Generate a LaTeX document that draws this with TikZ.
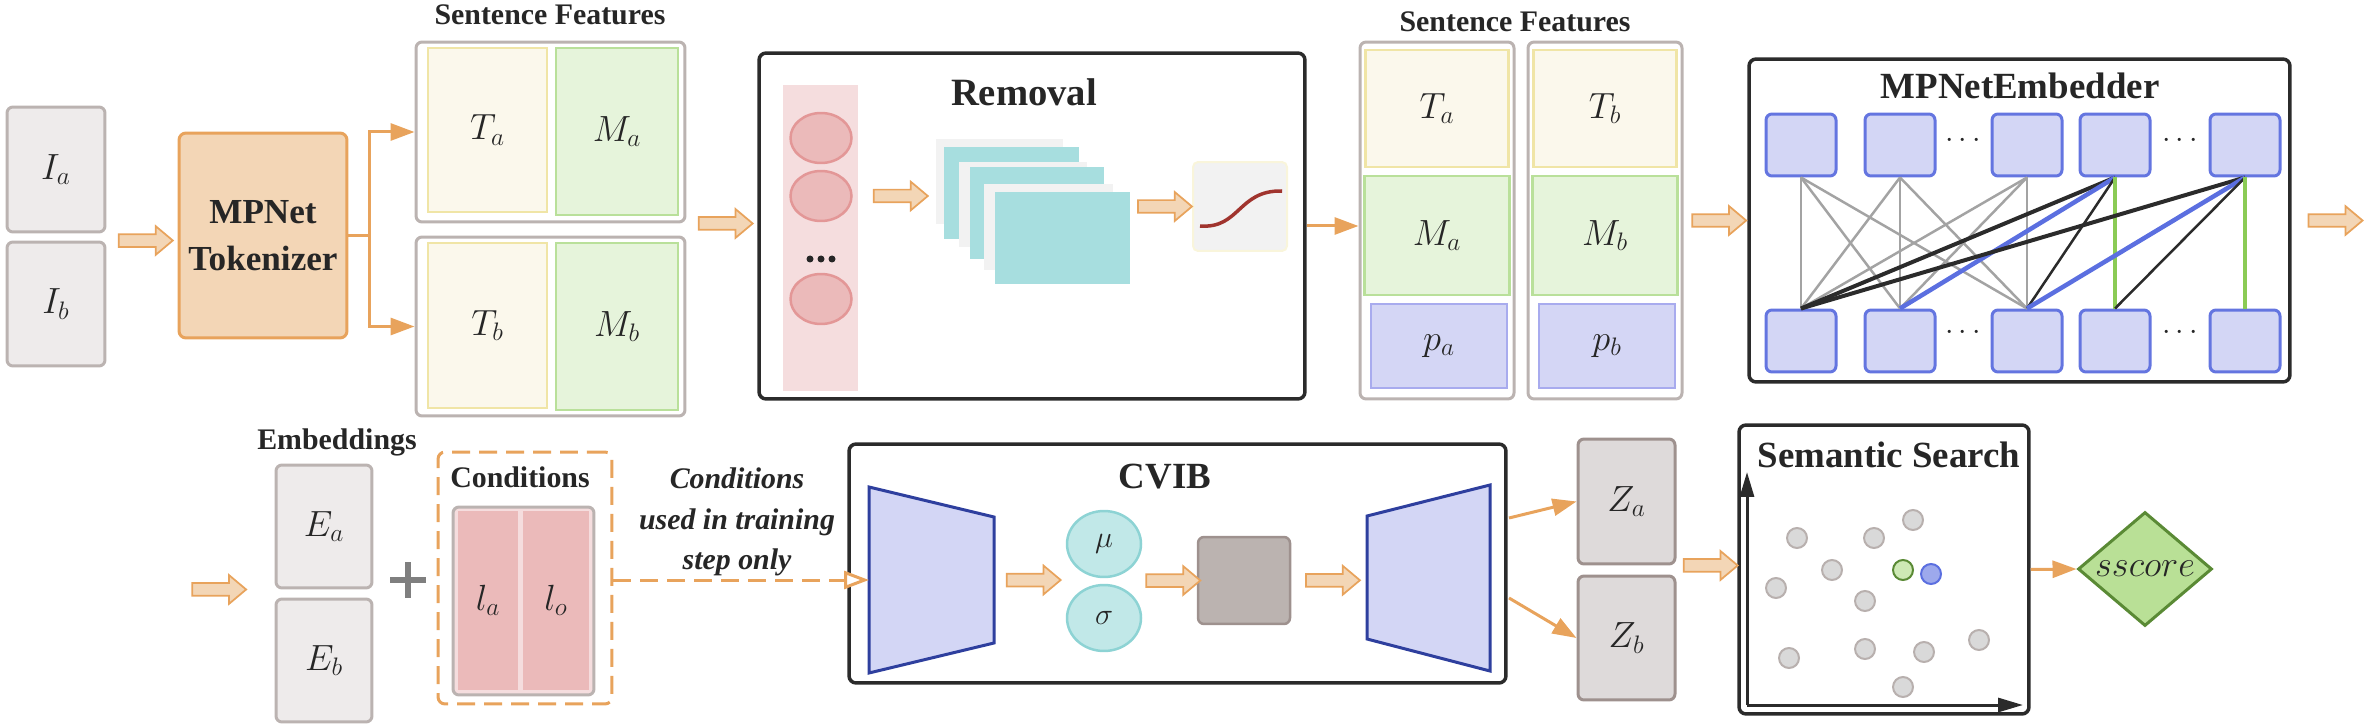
\documentclass[tikz,border=0pt]{standalone}
\usepackage{fontspec}
\setmainfont{Liberation Serif}
\usetikzlibrary{arrows.meta,positioning,shapes.geometric,shapes.arrows,calc}

\definecolor{orng}{HTML}{E8A35C}
\definecolor{orngfill}{HTML}{F3D6B6}
\definecolor{gbox}{HTML}{EEEBEB}
\definecolor{gline}{HTML}{BBB3B1}
\definecolor{zfill}{HTML}{DEDADA}
\definecolor{zline}{HTML}{9E918E}
\definecolor{latent}{HTML}{BBB3B0}
\definecolor{tfill}{HTML}{FBF8EC}
\definecolor{tline}{HTML}{F0E5A6}
\definecolor{mfill}{HTML}{E6F4DB}
\definecolor{mline}{HTML}{B9E09A}
\definecolor{pfill}{HTML}{D4D6F5}
\definecolor{pline}{HTML}{A8ABEE}
\definecolor{framec}{HTML}{2B2B2B}
\definecolor{nfill}{HTML}{D3D6F5}
\definecolor{nline}{HTML}{6475E0}
\definecolor{trline}{HTML}{2E3F9E}
\definecolor{cyfill}{HTML}{C1E8E8}
\definecolor{cyline}{HTML}{8DD3D4}
\definecolor{mapcy}{HTML}{A7DEDF}
\definecolor{mapgr}{HTML}{F2F2F2}
\definecolor{pinkcol}{HTML}{F5DDDE}
\definecolor{pinkfill}{HTML}{EBBABA}
\definecolor{pinkline}{HTML}{E39797}
\definecolor{sigred}{HTML}{A0342E}
\definecolor{dfill}{HTML}{B9E096}
\definecolor{dline}{HTML}{5A8A35}
\definecolor{txt}{HTML}{262626}
\definecolor{ptfill}{HTML}{D9D9D9}
\definecolor{ptline}{HTML}{B8B0AE}
\definecolor{plusgray}{HTML}{7F7F7F}
\definecolor{lgray}{HTML}{A3A3A3}
\definecolor{lblue}{HTML}{5B6FE0}
\definecolor{lgreen}{HTML}{8BCB55}

\begin{document}
\begin{tikzpicture}[x=0.02cm,y=-0.02cm,
  lab/.style={font=\fontsize{20}{24}\selectfont,text=txt},
  graybox/.style={draw=gline,fill=gbox,line width=0.06cm,rounded corners=0.12cm,lab},
  zbox/.style={draw=zline,fill=zfill,line width=0.06cm,rounded corners=0.12cm,lab},
  outer/.style={draw=gline,fill=white,line width=0.06cm,rounded corners=0.12cm},
  tcell/.style={draw=tline,fill=tfill,line width=0.05cm,lab},
  mcell/.style={draw=mline,fill=mfill,line width=0.05cm,lab},
  pcell/.style={draw=pline,fill=pfill,line width=0.05cm,lab},
  frame/.style={draw=framec,line width=0.07cm,rounded corners=0.14cm},
  title/.style={font=\bfseries\fontsize{17}{20}\selectfont,text=txt},
  bigtitle/.style={font=\bfseries\fontsize{21}{24}\selectfont,text=txt},
  fatarr/.style={single arrow,draw=orng,fill=orngfill,line width=0.035cm,inner sep=0.11cm,
    minimum height=1.08cm,minimum width=0.54cm,single arrow head extend=0.16cm,single arrow tip angle=80},
  thinarr/.style={draw=orng,line width=0.06cm,-{Triangle[length=0.48cm,width=0.34cm]}},
  cell/.style={draw=nline,fill=nfill,line width=0.06cm,rounded corners=0.12cm,minimum width=1.4cm,minimum height=1.24cm},
  glink/.style={draw=lgray,line width=0.05cm},
  klink/.style={draw=framec,line width=0.08cm},
  klinkthin/.style={draw=framec,line width=0.05cm},
  ulink/.style={draw=lblue,line width=0.09cm},
  vlink/.style={draw=lgreen,line width=0.08cm},
  dots/.style={font=\fontsize{16}{16}\selectfont,text=txt},
  pt/.style={circle,draw=ptline,fill=ptfill,line width=0.04cm,minimum size=0.4cm,inner sep=0},
  axis/.style={draw=framec,line width=0.06cm,-{Triangle[length=0.5cm,width=0.28cm]}}]
\useasboundingbox (0,0) rectangle (2370,726);

% inputs and tokenizer
\node[graybox,minimum width=1.96cm,minimum height=2.5cm] (ia) at (56,169.5) {$I_a$};
\node[graybox,minimum width=1.96cm,minimum height=2.48cm] (ib) at (56,304) {$I_b$};
\node[draw=orng,fill=orngfill,line width=0.06cm,rounded corners=0.14cm,minimum width=3.36cm,minimum height=4.1cm,
  align=center,font=\bfseries\fontsize{20}{27}\selectfont,text=txt] (tok) at (263,235.5) {MPNet\\Tokenizer};
\path (ib.north east) -- node[fatarr]{} (ib.north east -| tok.west);

% sentence features
\node[title] at (550,15) {Sentence Features};
\node[outer,minimum width=5.38cm,minimum height=3.6cm] (sfa) at (550.5,132) {};
\node[tcell,minimum width=2.38cm,minimum height=3.28cm] (ta) at (487.5,130) {$T_a$};
\node[mcell,minimum width=2.44cm,minimum height=3.34cm] (ma) at (617,131.5) {$M_a$};
\node[outer,minimum width=5.38cm,minimum height=3.58cm] (sfb) at (550.5,326.5) {};
\node[tcell,minimum width=2.38cm,minimum height=3.3cm] (tb) at (487.5,325.5) {$T_b$};
\node[mcell,minimum width=2.44cm,minimum height=3.34cm] (mb) at (617,326.5) {$M_b$};
\coordinate (split) at ($(tok.east)+(21,0)$);
\draw[orng,line width=0.06cm] (tok.east) -- (split);
\draw[thinarr] (split) |- (sfa.west);
\draw[thinarr] (split) |- (sfb.west);

% removal
\node[frame,minimum width=10.92cm,minimum height=6.92cm] (rem) at (1032,226) {};
\node[font=\bfseries\fontsize{22}{26}\selectfont,text=txt] at (1024,92) {Removal};
\path (sfa.south east) -- node[fatarr]{} (sfa.south east -| rem.west);
\node[fill=pinkcol,minimum width=1.5cm,minimum height=6.12cm,inner sep=0] (col) at (820.5,238) {};
\foreach \y [count=\i] in {138,196,299}
  \node[ellipse,draw=pinkline,fill=pinkfill,line width=0.05cm,minimum width=1.22cm,minimum height=1cm,inner sep=0] (c\i) at (821,\y) {};
\foreach \d in {-11,0,11} \fill[txt] (821+\d,259) circle (0.07cm);
\foreach \x/\y/\w/\h/\c [count=\i] in {999.5/181.5/2.54/1.7/mapgr,1011.5/193/2.7/1.84/mapcy,1023/204.5/2.56/1.7/mapgr,
    1037/213/2.68/1.84/mapcy,1048.5/227/2.58/1.72/mapgr,1062.5/238/2.7/1.84/mapcy}
  \node[fill=\c,inner sep=0,minimum width=\w cm,minimum height=\h cm] (fm\i) at (\x,\y) {};
\path (col.east |- c2) -- node[fatarr]{} (fm1.west |- c2);
\node[draw=tline!40,fill=mapgr,line width=0.04cm,rounded corners=0.1cm,minimum width=1.88cm,minimum height=1.78cm] (sig) at (1240,206.5) {};
\draw[sigred,line width=0.07cm] (1200,226) .. controls (1240,229) and (1238,190) .. (1282,191);
\path (fm6.east |- sig.west) -- node[fatarr]{} (sig.west);

% sentence features with positions
\node[title] at (1515,22) {Sentence Features};
\foreach \n/\x in {a/1437,b/1605}{
  \node[outer,minimum width=3.08cm,minimum height=7.14cm] (sfr\n) at (\x,220.5) {};
  \node[tcell,minimum width=2.86cm,minimum height=2.34cm] (tr\n) at (\x,108.5) {$T_\n$};
  \node[mcell,minimum width=2.9cm,minimum height=2.38cm] (mr\n) at (\x,235.5) {$M_\n$};
  \node[pcell,minimum width=2.72cm,minimum height=1.68cm] (pr\n) at (\x+2,346) {$p_\n$};
}
\draw[thinarr] (rem.east) -- (rem.east -| sfra.west);

% embedder
\node[frame,minimum width=10.82cm,minimum height=6.46cm] (emb) at (2019.5,220.5) {};
\node[bigtitle] at (2020,86) {MPNetEmbedder};
\path (sfrb.east |- emb.west) -- node[fatarr]{} (emb.west);
\foreach \x [count=\i] in {1801,1900,2027,2115,2245}{
  \node[cell] (t\i) at (\x,145) {};
  \node[cell] (b\i) at (\x,341) {};
}
\foreach \x in {1963,2180}{
  \node[dots] at (\x,141) {$\cdots$};
  \node[dots] at (\x,333) {$\cdots$};
}
\foreach \i in {1,2,3} \foreach \j in {1,2,3} \draw[glink] (t\i.south) -- (b\j.north);
\draw[klink] (t4.south) -- (b1.north);
\draw[ulink] (t4.south) -- (b2.north);
\draw[klinkthin] (t4.south) -- (b3.north);
\draw[vlink] (t4.south) -- (b4.north);
\draw[klink] (t5.south) -- (b1.north);
\draw[ulink] (t5.south) -- (b3.north);
\draw[klinkthin] (t5.south) -- (b4.north);
\draw[vlink] (t5.south) -- (b5.north);
\node[fatarr,right=0.32cm of emb.east] (outarr) {};

% embeddings and conditions
\node[title] at (337,442) {Embeddings};
\node[graybox,minimum width=1.92cm,minimum height=2.46cm] (ea) at (324,526.5) {$E_a$};
\node[graybox,minimum width=1.92cm,minimum height=2.46cm] (eb) at (324,660.5) {$E_b$};
\node[fatarr,left=0.54cm of ea.south west] (inarr) {};
\draw[plusgray,line width=0.12cm] (390,580) -- (426,580) (408,562) -- (408,598);
\node[draw=orng,line width=0.06cm,dash pattern=on 0.36cm off 0.18cm,rounded corners=0.14cm,minimum width=3.48cm,minimum height=5.04cm] (cond) at (525,578) {};
\node[title] at (520,477) {Conditions};
\node[draw=gline,fill=pinkcol,line width=0.06cm,rounded corners=0.12cm,minimum width=2.82cm,minimum height=3.76cm] (lbox) at (523.5,601) {};
\node[fill=pinkfill,inner sep=0,minimum width=1.2cm,minimum height=3.58cm,lab] (la) at (488,600.5) {$l_a$};
\node[fill=pinkfill,inner sep=0,minimum width=1.32cm,minimum height=3.58cm,lab] (lo) at (556,600.5) {$l_o$};
\node[align=center,font=\bfseries\itshape\fontsize{17}{23}\selectfont,text=txt] (note) at (737,522) {Conditions\\used in training\\step only};

% cvib
\node[frame,minimum width=13.14cm,minimum height=4.78cm] (cvib) at (1177.5,563.5) {};
\node[bigtitle] at (1165,477) {CVIB};
\draw[draw=trline,fill=nfill,line width=0.06cm] (869,487) -- (994,517) -- (994,643) -- (869,673) -- cycle;
\draw[draw=trline,fill=nfill,line width=0.06cm] (1367,516) -- (1490,485) -- (1490,671) -- (1367,639) -- cycle;
\coordinate (encin) at (869,580);
\coordinate (encout) at (994,580);
\coordinate (decin) at (1367,580);
\draw[draw=orng,line width=0.06cm,dash pattern=on 0.36cm off 0.18cm,-{Triangle[open,fill=white,length=0.5cm,width=0.36cm]}] (cond.east |- encin) -- (encin);
\node[ellipse,draw=cyline,fill=cyfill,line width=0.05cm,minimum width=1.48cm,minimum height=1.32cm,inner sep=0,font=\fontsize{16}{18}\selectfont,text=txt] (mu) at (1104,544) {$\mu$};
\node[ellipse,draw=cyline,fill=cyfill,line width=0.05cm,minimum width=1.48cm,minimum height=1.32cm,inner sep=0,font=\fontsize{16}{18}\selectfont,text=txt] (sigma) at (1104,618) {$\sigma$};
\path (encout) -- node[fatarr]{} (encout -| mu.west);
\node[draw=zline,fill=latent,line width=0.05cm,rounded corners=0.12cm,minimum width=1.84cm,minimum height=1.74cm] (lat) at (1244,580.5) {};
\path (mu.east |- lat.west) -- node[fatarr]{} (lat.west);
\path (lat.east) -- node[fatarr]{} (decin);

% outputs
\node[zbox,minimum width=1.94cm,minimum height=2.5cm] (za) at (1626.5,501.5) {$Z_a$};
\node[zbox,minimum width=1.94cm,minimum height=2.48cm] (zb) at (1626.5,638) {$Z_b$};
\coordinate (decup) at (1509,518);
\coordinate (decdown) at (1509,598);
\draw[thinarr] (decup) -- (za.west);
\draw[thinarr] (decdown) -- (zb.west);

% semantic search
\node[frame,minimum width=5.8cm,minimum height=5.78cm] (sem) at (1884,569.5) {};
\node[bigtitle] at (1889,455) {Semantic Search};
\path (za.south east) -- node[fatarr]{} (za.south east -| sem.west);
\coordinate (org) at (1747,705);
\draw[axis] (org) -- (1747,472);
\draw[axis] (org) -- (2023,705);
\foreach \x/\y in {1797/538,1874/538,1913/520,1832/570,1776/588,1865/601,1789/658,1865/649,1924/652,1979/640,1903/687}
  \node[pt] at (\x,\y) {};
\node[pt,draw=dline,fill=dfill!70] (gpt) at (1903,570) {};
\node[pt,draw=lblue,fill=lblue!60] (bpt) at (1931,574) {};
\node[diamond,draw=dline,fill=dfill,line width=0.06cm,aspect=1.18,inner sep=0,minimum width=2.68cm,minimum height=2.28cm,
  font=\fontsize{22}{24}\selectfont,text=txt] (score) at (2145,569) {$sscore$};
\draw[thinarr] (sem.east) -- (score.west);
\end{tikzpicture}
\end{document}
